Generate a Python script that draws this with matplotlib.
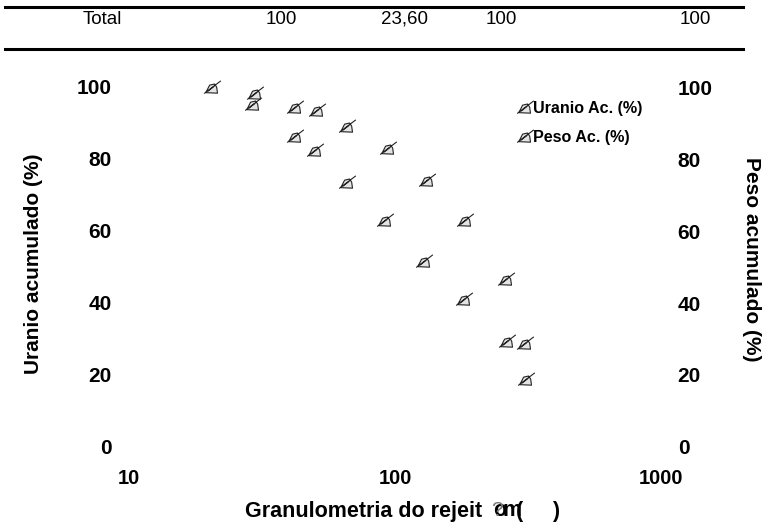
import matplotlib
matplotlib.use("Agg")
import matplotlib.pyplot as plt
from matplotlib.path import Path
from matplotlib.lines import Line2D

plt.rcParams['font.family'] = ['Liberation Sans', 'DejaVu Sans']

# Data
uranio_x = [29.8, 42.1, 50.9, 66, 94.1, 131.9, 183.3, 261.4, 308, 311]
uranio_y = [98.3, 94.4, 93.6, 89.2, 83, 74.2, 63, 46.7, 28.9, 18.9]
peso_x = [20.5, 29.3, 42.1, 50, 66, 91.7, 128.5, 181.7, 263.6]
peso_y = [100, 95.3, 86.4, 82.5, 73.6, 63, 51.7, 41.1, 29.4]

x_ticks = [10, 100, 1000]
y_ticks = [0, 20, 40, 60, 80, 100]
table_row = ["Total", "100", "23,60", "100", "100"]

W, H = 768, 524
fig = plt.figure(figsize=(W / 100, H / 100), dpi=100)

# axes box in pixels of the picture
left, right, top, bottom = 129, 661, 87, 447
ax = fig.add_axes([left / W, 1 - bottom / H, (right - left) / W, (bottom - top) / H])
ax.set_xscale('log')
ax.set_xlim(10, 1000)
ax.set_ylim(0, 100)
for s in ax.spines.values():
    s.set_visible(False)

# little writing-hand marker, the chart's font symbol got swapped
hand = Path(
    [(-1, -0.72), (1, 0.8),
     (-0.8, -0.62), (-0.35, 0.28), (0.25, 0.42), (0.5, 0.05), (0.6, -0.68), (-0.8, -0.62),
     (-0.55, -0.45), (0.2, 0.15)],
    [Path.MOVETO, Path.LINETO,
     Path.MOVETO, Path.LINETO, Path.LINETO, Path.LINETO, Path.LINETO, Path.CLOSEPOLY,
     Path.MOVETO, Path.LINETO])
mk = dict(linestyle='none', marker=hand, markersize=12, mfc='#e4e4e4', mec='#222222', mew=0.8, clip_on=False)

ax.plot(uranio_x, uranio_y, **mk)
ax.plot(peso_x, peso_y, **mk)

ax.set_xticks(x_ticks)
ax.set_xticklabels([str(v) for v in x_ticks], fontsize=14.5, fontweight='bold')
ax.minorticks_off()
ax.set_yticks(y_ticks)
ax.set_yticklabels([str(v) for v in y_ticks], fontsize=15, fontweight='bold')
ax.tick_params(axis='x', length=0, pad=16, which='both')
ax.tick_params(axis='y', length=0, pad=12.5)

ax2 = ax.twinx()
ax2.set_ylim(0, 100)
ax2.set_yticks(y_ticks)
ax2.set_yticklabels([str(v) for v in y_ticks], fontsize=15, fontweight='bold')
ax2.tick_params(axis='y', length=0, pad=12)
for s in ax2.spines.values():
    s.set_visible(False)

handles = [Line2D([], [], **mk), Line2D([], [], **mk)]
ax.legend(handles, ["Uranio Ac. (%)", "Peso Ac. (%)"], frameon=False,
          loc='upper left', bbox_to_anchor=((517 - left) / (right - left), 1 - (101 - top) / (bottom - top)),
          borderaxespad=0, borderpad=0, handlelength=1.0, handletextpad=0.0, labelspacing=0.85,
          prop={'size': 11.6, 'weight': 'bold'})


def px(x, y):
    return x / W, 1 - y / H


# axis titles
fig.text(*px(34, 264), "Uranio acumulado (%)", rotation=90, ha='center', va='center',
         fontsize=15, fontweight='bold')
fig.text(*px(752, 259), "Peso acumulado (%)", rotation=270, ha='center', va='center',
         fontsize=15, fontweight='bold')
fig.text(*px(245, 511), "Granulometria do rejeit", ha='left', va='center', fontsize=15.5, fontweight='bold')
fig.text(*px(493, 511), "o", ha='left', va='center', fontsize=15.5, fontweight='bold')
fig.text(*px(503, 511), "m", ha='left', va='center', fontsize=15.5, fontweight='bold')
fig.text(*px(516, 511), "(", ha='left', va='center', fontsize=15.5, fontweight='bold')
fig.text(*px(491, 511), "?", ha='left', va='center', fontsize=15, color='#777777')
fig.text(*px(552, 511), ")", ha='left', va='center', fontsize=15.5, fontweight='bold')

# piece of the table above the chart
for y in (7, 49):
    fig.add_artist(Line2D([5 / W, 743 / W], [1 - y / H, 1 - y / H], color='black', lw=2.2))
for x, label in zip([102, 281, 404, 501, 695], table_row):
    fig.text(*px(x, 19), label, ha='center', va='center', fontsize=13.5)

fig.savefig("out.png", dpi=100)
